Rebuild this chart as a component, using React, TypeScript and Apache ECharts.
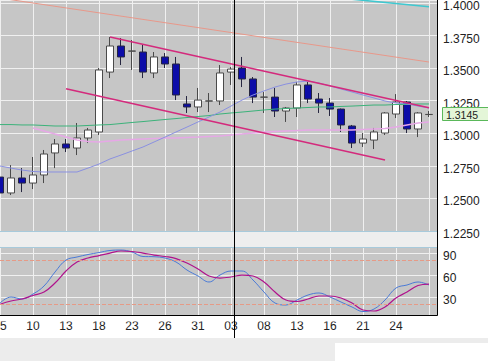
import React, { useEffect, useRef } from "react";
import * as echarts from "echarts";

const dates = ["05","06","09","10","11","12","13","16","17","18","19","20","23","24","25","26","27","30","31","01","02","03","06","07","08","09","10","13","14","15","16","17","20","21","22","23","24","27","28","29"];

const opens = [1.2664,1.2542,1.2657,1.2618,1.2680,1.2849,1.2918,1.2887,1.2964,1.3010,1.3470,1.3670,1.3630,1.3624,1.3463,1.3586,1.3532,1.3225,1.3202,1.3247,1.3248,1.3470,1.3501,1.3417,1.3277,1.3278,1.3171,1.3194,1.3371,1.3263,1.3232,1.3186,1.3056,1.2925,1.2948,1.3002,1.3148,1.3240,1.3033,1.3144];
const closes = [1.2542,1.2657,1.2618,1.2680,1.2841,1.2918,1.2887,1.2964,1.3025,1.3486,1.3670,1.3586,1.3632,1.3470,1.3586,1.3532,1.3294,1.3202,1.3255,1.3249,1.3463,1.3493,1.3417,1.3278,1.3278,1.3171,1.3194,1.3371,1.3263,1.3232,1.3186,1.3064,1.2925,1.2956,1.3010,1.3156,1.3240,1.3033,1.3156,1.3145];
const lows = [1.2503,1.2526,1.2549,1.2572,1.2618,1.2733,1.2856,1.2833,1.2925,1.2987,1.3424,1.3524,1.3486,1.3424,1.3424,1.3501,1.3255,1.3156,1.3163,1.3163,1.3217,1.3371,1.3355,1.3232,1.3156,1.3125,1.3087,1.3125,1.3232,1.3156,1.3133,1.3010,1.2887,1.2895,1.2879,1.2987,1.3117,1.3002,1.2971,1.3125];
const highs = [1.2680,1.2756,1.2733,1.2818,1.2872,1.2956,1.2956,1.3079,1.3041,1.3501,1.3739,1.3731,1.3716,1.3678,1.3624,1.3616,1.3586,1.3286,1.3348,1.3309,1.3524,1.3509,1.3586,1.3432,1.3317,1.3348,1.3202,1.3394,1.3394,1.3309,1.3271,1.3190,1.3064,1.3002,1.3041,1.3163,1.3301,1.3248,1.3163,1.3171];

const maGreen = [1.3067,1.3067,1.3064,1.3064,1.3060,1.3056,1.3056,1.3056,1.3060,1.3064,1.3067,1.3075,1.3083,1.3090,1.3098,1.3106,1.3113,1.3121,1.3129,1.3136,1.3148,1.3156,1.3163,1.3171,1.3179,1.3186,1.3190,1.3194,1.3198,1.3202,1.3202,1.3206,1.3209,1.3213,1.3217,1.3217,1.3221,1.3221,1.3225,1.3225];
const maBlue = [1.2749,1.2733,1.2718,1.2707,1.2703,1.2703,1.2703,1.2703,1.2733,1.2764,1.2803,1.2833,1.2864,1.2895,1.2933,1.2971,1.3010,1.3048,1.3087,1.3125,1.3163,1.3209,1.3255,1.3294,1.3325,1.3355,1.3378,1.3394,1.3401,1.3386,1.3363,1.3340,1.3317,1.3294,1.3271,1.3248,1.3232,1.3225,1.3209,1.3194];
const maPink = [null,null,null,1.3041,1.3018,1.2994,1.2971,1.2948,1.2937,1.2933,1.2941,1.2948,1.2952,1.2956,1.2960,1.2964,1.2964,1.2968,1.2971,1.2975,1.2979,1.2987,1.2994,1.3002,1.3010,1.3014,1.3018,1.3021,1.3025,1.3025,1.3025,1.3025,1.3025,1.3029,1.3033,1.3037,1.3048,1.3064,1.3079,1.3087];

const upperChannel = [[10, 1.3739], [39, 1.3196]];
const lowerChannel = [[6, 1.3342], [35, 1.2795]];
const salmonTrend = [[0, 1.4038], [39, 1.3547]];
const cyanTrend = [[32, 1.4029], [39, 1.3972]];

const stochK = [21.8,30.0,27.3,34.1,45.0,64.1,80.5,84.6,88.0,90.7,93.5,94.1,91.4,85.3,85.0,83.2,77.8,66.8,58.7,50.5,60.0,65.5,65.5,53.2,36.8,21.8,19.1,25.9,32.7,35.5,30.0,23.2,16.4,10.2,13.6,25.9,42.3,46.4,50.5,46.4];
const stochD = [20.1,24.6,27.3,32.1,36.8,49.1,65.5,77.8,83.2,86.6,90.0,92.8,92.1,90.0,87.3,85.3,82.5,76.4,68.2,58.7,55.9,57.3,60.0,58.7,50.5,36.8,25.9,23.9,27.3,31.4,31.4,28.6,21.8,12.3,10.9,16.4,28.6,36.8,45.7,47.7];
const stochLevels = [80, 20];

const FONT = '"Liberation Sans", Arial, sans-serif';
const GRID_BG = "#c6c6c6";
const GRID_LINE = "#f0f0f0";

export default function App() {
  const ref = useRef<HTMLDivElement>(null);
  useEffect(() => {
    if (!ref.current) return;
    const chart = echarts.init(ref.current, null, { renderer: "svg" });
    const candles = opens.map((o, i) => [o, closes[i], lows[i], highs[i]]);
    const lineBase = { type: "line", showSymbol: false, symbol: "none", z: 3, silent: true };
    const catAxis = (gi: number, showLabels: boolean) => ({
      type: "category",
      gridIndex: gi,
      data: dates,
      boundaryGap: false,
      max: 40,
      axisLine: { show: false },
      axisTick: { show: false },
      axisLabel: showLabels
        ? {
            interval: 2,
            margin: 1,
            fontSize: 12,
            color: "#222",
            fontFamily: FONT,
            showMaxLabel: false,
            hideOverlap: false,
            formatter: (v: string, i: number) => (i >= 39 ? "" : v),
          }
        : { show: false },
      splitLine: { show: true, interval: 2, lineStyle: { color: GRID_LINE, width: 1 } },
    });
    const yLabel = {
      margin: 3,
      fontSize: 12,
      color: "#222",
      fontFamily: FONT,
      verticalAlign: "top",
      padding: [-3, 0, 0, 0],
    };
    const option: any = {
      animation: false,
      backgroundColor: "#ffffff",
      grid: [
        { left: 0, top: 0, width: 440, height: 231, show: true, backgroundColor: GRID_BG, borderWidth: 0, containLabel: false, outerBoundsMode: "none" },
        { left: 0, top: 245.73, width: 440, height: 73.27, show: true, backgroundColor: GRID_BG, borderWidth: 0, containLabel: false, outerBoundsMode: "none" },
      ],
      xAxis: [catAxis(0, false), catAxis(1, true)],
      yAxis: [
        {
          type: "value",
          gridIndex: 0,
          position: "right",
          min: 1.225,
          max: 1.40232,
          interval: 0.025,
          axisLine: { show: false },
          axisTick: { show: false },
          splitLine: { lineStyle: { color: GRID_LINE, width: 1 } },
          axisLabel: { ...yLabel, showMaxLabel: false, formatter: (v: number) => v.toFixed(4) },
        },
        {
          type: "value",
          gridIndex: 1,
          position: "right",
          min: 0,
          max: 100,
          interval: 30,
          axisLine: { show: false },
          axisTick: { show: false },
          splitLine: { lineStyle: { color: GRID_LINE, width: 1 } },
          axisLabel: { ...yLabel, showMaxLabel: false, showMinLabel: false, formatter: (v: number) => String(v) },
        },
      ],
      series: [
        {
          type: "candlestick",
          xAxisIndex: 0,
          yAxisIndex: 0,
          data: candles,
          barWidth: 7,
          clip: false,
          z: 2,
          silent: true,
          itemStyle: {
            color: "#ffffff",
            color0: "#0c0ca8",
            borderColor: "#4a4a4a",
            borderColor0: "#262640",
            borderWidth: 1,
          },
        },
        { ...lineBase, xAxisIndex: 0, yAxisIndex: 0, data: maPink, lineStyle: { color: "#e6a8e6", width: 1.5 } },
        { ...lineBase, xAxisIndex: 0, yAxisIndex: 0, data: maGreen, lineStyle: { color: "#3cb27a", width: 1 } },
        { ...lineBase, xAxisIndex: 0, yAxisIndex: 0, data: maBlue, lineStyle: { color: "#8a90e0", width: 1 } },
        { ...lineBase, xAxisIndex: 0, yAxisIndex: 0, data: salmonTrend, lineStyle: { color: "#e8988a", width: 1 } },
        { ...lineBase, xAxisIndex: 0, yAxisIndex: 0, data: cyanTrend, lineStyle: { color: "#3ec8d0", width: 1.5 } },
        { ...lineBase, xAxisIndex: 0, yAxisIndex: 0, data: upperChannel, lineStyle: { color: "#d42a7c", width: 1.5 } },
        { ...lineBase, xAxisIndex: 0, yAxisIndex: 0, data: lowerChannel, lineStyle: { color: "#d42a7c", width: 1.5 } },
        {
          ...lineBase,
          xAxisIndex: 1,
          yAxisIndex: 1,
          data: stochK,
          smooth: 0.4,
          lineStyle: { color: "#4a7ad6", width: 1 },
          markLine: {
            silent: true,
            symbol: "none",
            label: { show: false },
            lineStyle: { type: "dashed", color: "#e69a86", width: 1 },
            data: stochLevels.map((v) => ({ yAxis: v })),
          },
        },
        { ...lineBase, xAxisIndex: 1, yAxisIndex: 1, data: stochD, smooth: 0.4, lineStyle: { color: "#b0128c", width: 1.2 } },
      ],
    };
    chart.setOption(option);

    const lastPrice = closes[closes.length - 1];
    const lastY = chart.convertToPixel({ yAxisIndex: 0 }, lastPrice) as number;

    chart.setOption({
      graphic: [
        { type: "rect", z: 50, silent: true, shape: { x: 0, y: 231, width: 438, height: 17 }, style: { fill: "#eeeeee" } },
        { type: "line", z: 51, silent: true, shape: { x1: 0, y1: 231.5, x2: 437.5, y2: 231.5 }, style: { stroke: "#a8cadb", lineWidth: 1 } },
        { type: "line", z: 51, silent: true, shape: { x1: 0, y1: 247.5, x2: 437.5, y2: 247.5 }, style: { stroke: "#a8cadb", lineWidth: 1 } },
        { type: "rect", z: 50, silent: true, shape: { x: 0, y: 315.5, width: 441, height: 6 }, style: { fill: "#ffffff" } },
        { type: "rect", z: 50, silent: true, shape: { x: 438, y: 0, width: 3, height: 322 }, style: { fill: "#ffffff" } },
        { type: "line", z: 52, silent: true, shape: { x1: 437.5, y1: 0, x2: 437.5, y2: 315.5 }, style: { stroke: "#000000", lineWidth: 1 } },
        { type: "line", z: 52, silent: true, shape: { x1: 0, y1: 315.5, x2: 437.5, y2: 315.5 }, style: { stroke: "#000000", lineWidth: 1 } },
        { type: "rect", z: 50, silent: true, shape: { x: 0, y: 338, width: 488, height: 23 }, style: { fill: "#ececec" } },
        { type: "rect", z: 51, silent: true, shape: { x: 335, y: 343, width: 153, height: 18 }, style: { fill: "#ffffff" } },
        { type: "line", z: 53, silent: true, shape: { x1: 234.5, y1: 0, x2: 234.5, y2: 338 }, style: { stroke: "#000000", lineWidth: 1 } },
        { type: "rect", z: 54, silent: true, shape: { x: 442.5, y: Math.round(lastY) - 6.5, width: 50, height: 13 }, style: { fill: "#e4f6d8", stroke: "#5ab85a", lineWidth: 1 } },
        {
          type: "text",
          z: 55,
          silent: true,
          style: {
            text: lastPrice.toFixed(4),
            x: 446,
            y: Math.round(lastY) + 0.5,
            fill: "#222222",
            font: `10.5px ${FONT}`,
            textVerticalAlign: "middle",
            verticalAlign: "middle",
          },
        },
      ],
    });

    return () => chart.dispose();
  }, []);
  return (
    <div
      ref={ref}
      style={{ position: "fixed", left: 0, top: 0, width: 488, height: 361, background: "#fff" }}
    />
  );
}
